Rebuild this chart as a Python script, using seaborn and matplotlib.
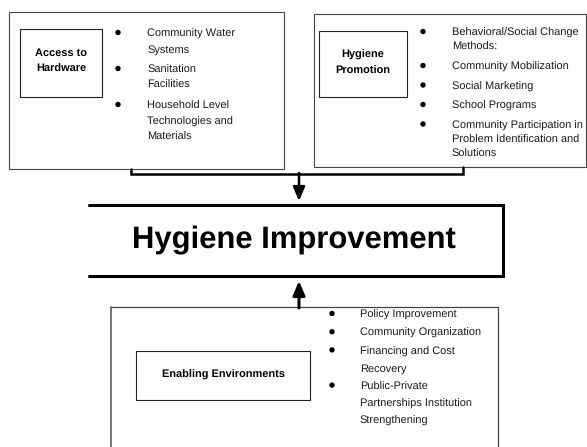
import pandas as pd
import seaborn as sns
import matplotlib.pyplot as plt
from matplotlib.patches import Rectangle

# Text content of the diagram
title_main = "Hygiene Improvement"

hardware_title = ["Access to", "Hardware"]
hardware_items = [
    ["Community Water", "Systems"],
    ["Sanitation", "Facilities"],
    ["Household Level", "Technologies and", "Materials"],
]

promotion_title = ["Hygiene", "Promotion"]
promotion_items = [
    ["Behavioral/Social Change", "Methods:"],
    ["Community Mobilization"],
    ["Social Marketing"],
    ["School Programs"],
    ["Community Participation in", "Problem Identification and", "Solutions"],
]

enabling_title = ["Enabling Environments"]
enabling_items = [
    ["Policy Improvement"],
    ["Community Organization"],
    ["Financing and Cost", "Recovery"],
    ["Public-Private", "Partnerships Institution", "Strengthening"],
]

sns.set_theme(style="white")
plt.rcParams["font.family"] = ["Liberation Sans", "DejaVu Sans"]
plt.rcParams["text.hinting"] = "no_hinting"
plt.rcParams["text.hinting_factor"] = 1

fig = plt.figure(figsize=(5.87, 4.47), dpi=100)
ax = fig.add_axes([0, 0, 1, 1])
ax.set_xlim(0, 587)
ax.set_ylim(447, 0)
ax.axis("off")

TXT = "#1a1a1a"


def box(x0, y0, x1, y1, lw=0.8, color="#444444"):
    ax.add_patch(Rectangle((x0, y0), x1 - x0, y1 - y0, fill=False,
                           edgecolor=color, linewidth=lw))


def bullets(items, bx, tx, y0, step, gap):
    rows = []
    y = y0
    for item in items:
        rows.append({"x": bx, "y": y - 1.5})
        for line in item:
            ax.text(tx, y, line, fontsize=7.9, color=TXT, ha="left", va="center")
            y += step
        y += gap
    pts = pd.DataFrame(rows)
    sns.scatterplot(data=pts, x="x", y="y", ax=ax, s=15, color="black",
                    edgecolor="none", legend=False)


def label(lines, cx, cy, step=16):
    start = cy - step * (len(lines) - 1) / 2
    for i, line in enumerate(lines):
        ax.text(cx, start + i * step, line, fontsize=8, fontweight="bold",
                color="black", ha="center", va="center")


# top-left block
box(9, 12, 284, 169)
box(20, 29, 102, 97, lw=0.8, color="#222222")
label(hardware_title, 61, 61)
bullets(hardware_items, 118, 147, 34, 15.5, 5)

# top-right block
box(314, 14, 586, 167)
box(319, 31, 407, 97, lw=0.8, color="#222222")
label(promotion_title, 363, 63)
bullets(promotion_items, 423, 452, 33, 14.5, 5)

# bracket and down arrow
ax.plot([131, 131, 463, 463], [169, 174, 174, 167], color="black", lw=1.8,
        solid_joinstyle="miter")
ax.annotate("", xy=(299, 201), xytext=(299, 173),
            arrowprops=dict(arrowstyle="-|>,head_length=0.7,head_width=0.3",
                            lw=1.8, color="black", shrinkA=0, shrinkB=0))

# main box
ax.plot([89, 503, 503, 89], [205, 205, 276, 276], color="black", lw=2.2,
        solid_joinstyle="miter")
ax.text(294, 248, title_main, fontsize=22, fontweight="bold",
        color="black", ha="center", va="baseline")

# up arrow
ax.annotate("", xy=(299, 281), xytext=(299, 308),
            arrowprops=dict(arrowstyle="-|>,head_length=0.7,head_width=0.3",
                            lw=2.2, color="black", shrinkA=0, shrinkB=0))

# bottom block
ax.plot([111, 111], [448, 307], color="#777777", lw=1.4)
ax.plot([111, 498, 498], [307, 307, 448], color="#444444", lw=0.9)
box(136, 351, 310, 400, lw=0.8, color="#222222")
label(enabling_title, 223, 375)
bullets(enabling_items, 332, 360, 315, 17, 1.2)

plt.savefig("out.png", dpi=100)
